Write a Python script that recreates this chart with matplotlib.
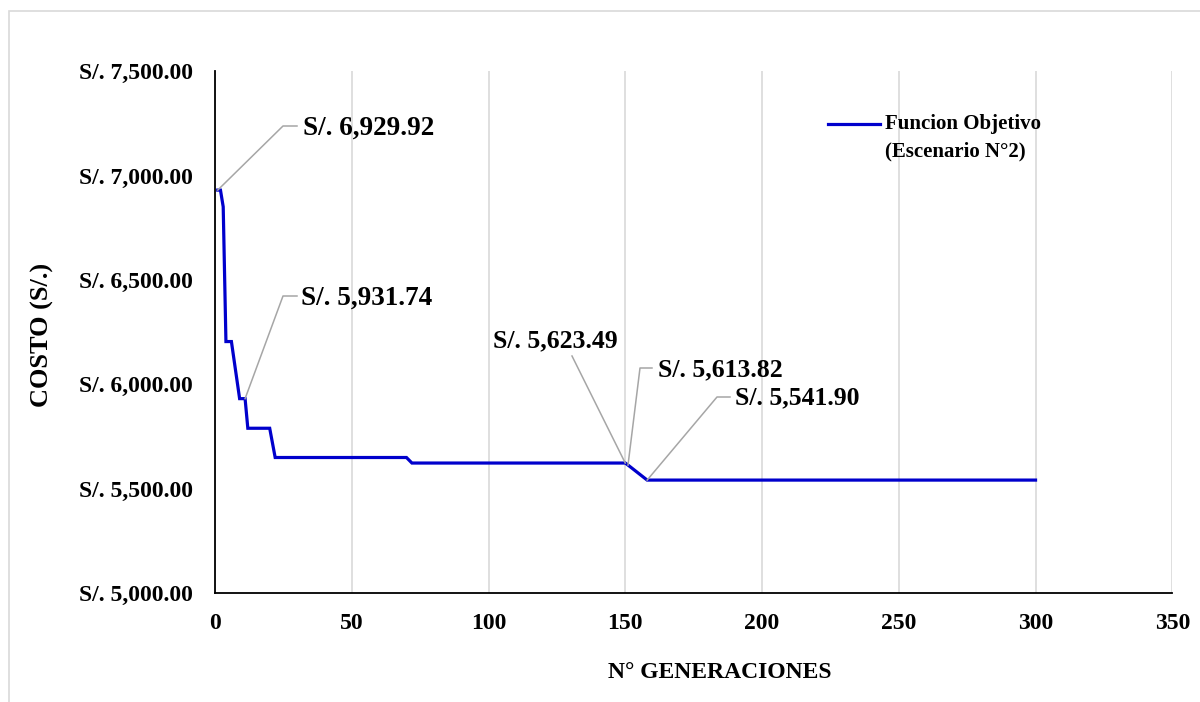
import matplotlib
matplotlib.use("Agg")
import matplotlib.pyplot as plt
from matplotlib.ticker import FuncFormatter, MultipleLocator
from matplotlib.patches import Rectangle

# Data (breakpoints of the best-cost curve)
generaciones = [1, 2, 3, 4, 6, 9, 11, 12, 20, 22, 70, 72, 150, 151, 158, 300]
costo = [6929.92, 6929.92, 6850.00, 6205.00, 6205.00, 5931.74, 5931.74, 5790.00,
         5790.00, 5650.00, 5650.00, 5623.49, 5623.49, 5613.82, 5541.90, 5541.90]

# Annotated points
anot_x = [1, 11, 150, 151, 158]
anot_y = [6929.92, 5931.74, 5623.49, 5613.82, 5541.90]
anot_txt = ["S/. 6,929.92", "S/. 5,931.74", "S/. 5,623.49", "S/. 5,613.82", "S/. 5,541.90"]

serie_nombre = "Funcion Objetivo\n(Escenario N°2)"

serif = ["Liberation Serif", "DejaVu Serif"]
plt.rcParams["font.family"] = serif
plt.rcParams["font.weight"] = "bold"

W, H = 1200, 702
fig = plt.figure(figsize=(12, 7.02), dpi=100)
ax = fig.add_axes([215/W, 1-593.3/H, (1172.3-215)/W, (593.3-71)/H])

# chart-area border
fig.patches.append(Rectangle((9/W, -0.05), 1.2, 1-11/H+0.05, transform=fig.transFigure,
                             fill=False, edgecolor="#d9d9d9", linewidth=1.2))

line_col = "#0000CC"
ax.plot(generaciones, costo, color=line_col, linewidth=2.3, zorder=3, solid_joinstyle="miter")

ax.set_xlim(0, 350)
ax.set_ylim(5000, 7500)
ax.xaxis.set_major_locator(MultipleLocator(50))
ax.yaxis.set_major_locator(MultipleLocator(500))
ax.yaxis.set_major_formatter(FuncFormatter(lambda v, p: f"S/. {v:,.2f}"))
ax.grid(axis="x", color="#d9d9d9", linewidth=1.2)
ax.set_axisbelow(True)
for s in ["top", "right"]:
    ax.spines[s].set_visible(False)
for s in ["left", "bottom"]:
    ax.spines[s].set_color("black")
    ax.spines[s].set_linewidth(1.3)
ax.tick_params(length=0, labelsize=17)
ax.tick_params(axis="y", pad=16)
ax.tick_params(axis="x", pad=14)
for lab in ax.get_xticklabels() + ax.get_yticklabels():
    lab.set_fontweight("bold")

ax.set_xlabel("N° GENERACIONES", fontsize=17, fontweight="bold")
ax.set_ylabel("COSTO (S/.)", fontsize=19, fontweight="bold")
ax.xaxis.set_label_coords(720/W, 1-672/H, transform=fig.transFigure)
ax.yaxis.set_label_coords(42/W, 1-335/H, transform=fig.transFigure)
ax.xaxis.label.set_va("center")
ax.yaxis.label.set_va("center")

lead_col = "#a6a6a6"

def leader(xs_pix, ys_pix):
    fig.add_artist(plt.Line2D([x/W for x in xs_pix], [1 - y/H for y in ys_pix],
                              transform=fig.transFigure, color=lead_col, linewidth=1.1, zorder=2))

def tx(x, y, s, ha="left", fs=18.5):
    fig.text(x/W, 1 - y/H, s, fontsize=fs, fontweight="bold", ha=ha, va="center")

fig.canvas.draw()
def dpix(x, y):
    X, Y = ax.transData.transform((x, y))
    return X, H - Y

p = dpix(anot_x[0], anot_y[0]); leader([p[0], 283, 297], [p[1], 126, 126]); tx(303, 128, anot_txt[0], fs=19.5)
p = dpix(anot_x[1], anot_y[1]); leader([p[0], 283, 297], [p[1], 296, 296]); tx(301, 298, anot_txt[1], fs=19.5)
p = dpix(anot_x[2], anot_y[2]); leader([p[0], 572], [p[1], 356]); tx(555, 341, anot_txt[2], ha="center")
p = dpix(anot_x[3], anot_y[3]); leader([p[0], 640, 652], [p[1], 368, 368]); tx(658, 370, anot_txt[3])
p = dpix(anot_x[4], anot_y[4]); leader([p[0], 717, 730], [p[1], 397, 397]); tx(735, 398, anot_txt[4])

# legend (line aligned with the first text line, as in the original)
fig.add_artist(plt.Line2D([828/W, 880/W], [1-124/H, 1-124/H], transform=fig.transFigure,
                          color=line_col, linewidth=2.3))
fig.text(885/W, 1-114/H, serie_nombre, fontsize=15, fontweight="bold", ha="left", va="top",
         linespacing=1.5)

fig.savefig("out.png", dpi=100)
